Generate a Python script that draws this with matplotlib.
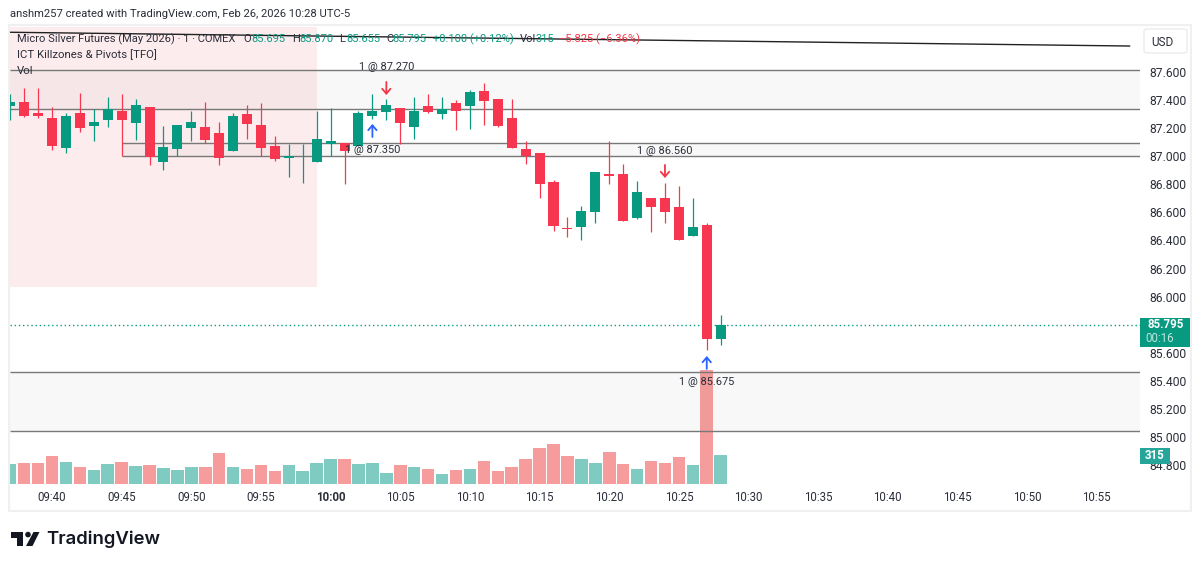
import matplotlib
matplotlib.use('Agg')
import matplotlib.pyplot as plt
from matplotlib.patches import Rectangle, Polygon, Circle, FancyBboxPatch
import numpy as np

# minutes after 09:40, chart starts at 09:37
first_minute = -3

opens = [87.36, 87.385, 87.305, 87.275, 87.06, 87.31, 87.215, 87.26, 87.32, 87.24,
         87.35, 86.96, 87.055, 87.20, 87.205, 87.165, 87.035, 87.30, 87.225, 87.07,
         86.99, 86.985, 86.96, 87.09, 87.095, 87.075, 87.29, 87.315, 87.345, 87.21,
         87.36, 87.30, 87.38, 87.36, 87.465, 87.405, 87.27, 87.05, 87.02, 86.815,
         86.49, 86.495, 86.605, 86.875, 86.875, 86.56, 86.705, 86.705, 86.64, 86.435,
         86.51, 85.695]
highs = [87.445, 87.485, 87.485, 87.35, 87.305, 87.45, 87.335, 87.42, 87.445, 87.41,
         87.35, 87.215, 87.225, 87.32, 87.385, 87.245, 87.305, 87.365, 87.38, 87.145,
         87.085, 87.085, 87.32, 87.345, 87.095, 87.32, 87.44, 87.405, 87.345, 87.425,
         87.445, 87.425, 87.40, 87.475, 87.525, 87.405, 87.405, 87.105, 87.02, 86.83,
         86.57, 86.645, 86.885, 87.105, 86.945, 86.825, 86.705, 86.81, 86.79, 86.705,
         86.525, 85.87]
lows = [87.26, 87.28, 87.275, 87.045, 87.025, 87.175, 87.105, 87.205, 87.00, 87.115,
        86.935, 86.90, 87.00, 87.105, 87.095, 86.94, 87.035, 87.125, 87.00, 86.965,
        86.85, 86.81, 86.96, 87.005, 86.805, 87.075, 87.265, 87.26, 87.085, 87.125,
        87.305, 87.265, 87.185, 87.195, 87.22, 87.205, 87.06, 86.945, 86.705, 86.47,
        86.425, 86.405, 86.525, 86.805, 86.54, 86.555, 86.46, 86.525, 86.405, 86.435,
        85.62, 85.655]
closes = [87.385, 87.29, 87.29, 87.07, 87.29, 87.20, 87.245, 87.335, 87.26, 87.365,
          86.995, 87.065, 87.225, 87.245, 87.115, 86.99, 87.29, 87.23, 87.06, 86.98,
          87.00, 86.99, 87.125, 87.105, 87.035, 87.305, 87.32, 87.365, 87.235, 87.32,
          87.315, 87.335, 87.325, 87.455, 87.395, 87.215, 87.06, 87.005, 86.805, 86.50,
          86.485, 86.61, 86.885, 86.86, 86.54, 86.745, 86.64, 86.60, 86.405, 86.495,
          85.695, 85.795]
volumes = [220, 230, 230, 305, 240, 190, 150, 220, 240, 195,
           205, 170, 150, 185, 180, 335, 185, 160, 205, 140,
           205, 140, 230, 270, 270, 220, 230, 120, 205, 180,
           160, 110, 150, 160, 250, 140, 190, 270, 390, 435,
           305, 270, 230, 345, 220, 160, 250, 230, 295, 205,
           1240, 315]

# 85.800 sits behind the last price tag in the original, so it has no label
price_ticks = [84.8, 85.0, 85.2, 85.4, 85.6, 86.0, 86.2, 86.4, 86.6, 86.8, 87.0, 87.2, 87.4, 87.6]
time_ticks = [0, 5, 10, 15, 20, 25, 30, 35, 40, 45, 50, 55, 60, 65, 70, 75]
time_labels = ['09:40', '09:45', '09:50', '09:55', '10:00', '10:05', '10:10', '10:15',
               '10:20', '10:25', '10:30', '10:35', '10:40', '10:45', '10:50', '10:55']

# trade markers: minute, side, label, arrow tail, arrow head, label price
trade_minutes = [24, 23, 44, 47]
trade_sides = ['sell', 'buy', 'sell', 'buy']
trade_labels = ['1 @ 87.270', '1 @ 87.350', '1 @ 86.560', '1 @ 85.675']
trade_tails = [87.529, 87.137, 86.938, 85.485]
trade_heads = [87.436, 87.23, 86.845, 85.577]
trade_label_prices = [87.636, 87.044, 87.037, 85.392]

# pivot levels
level_pairs = [(87.616, 87.334, -3.0), (87.096, 87.0, 5.0), (85.46, 85.045, -3.0)]
trend_minutes = [-3.0, 77.35]
trend_prices = [87.883, 87.785]
last_price = 85.795
zone_end = 19.05
zone_low = 86.069

RED = '#f7374f'
GREEN = '#089981'
VOL_RED = '#f79c9c'
VOL_GREEN = '#7fcbc1'
LINE = '#787878'
TEXT = '#2a2e39'
FONT = 'Roboto'

plt.rcParams['font.family'] = [FONT, 'DejaVu Sans']
W, H = 1200, 567
fig = plt.figure(figsize=(W/100, H/100), dpi=100, facecolor='white')

def px_axes(x0, y0, x1, y1):
    return fig.add_axes([x0/W, 1-y1/H, (x1-x0)/W, (y1-y0)/H])

def ftext(x, y, s, **kw):
    kw.setdefault('fontsize', 8.0)
    kw.setdefault('color', TEXT)
    kw.setdefault('va', 'center')
    return fig.text(x/W, 1-y/H, s, **kw)

# frame around the chart
fig.add_artist(Rectangle((9/W, 1-511/H), 1182/W, 486/H, transform=fig.transFigure,
                         fill=False, edgecolor='#f0f0f0', lw=1.5))

ax = px_axes(10, 27, 1140, 484)
ax.set_xlim(-3.015, 78.1)
ax.set_ylim(84.6655, 87.9205)
ax.set_facecolor('none')
for s in ax.spines.values():
    s.set_visible(False)

vol_ax = px_axes(10, 27, 1140, 484)
vol_ax.set_xlim(ax.get_xlim())
vol_ax.set_ylim(0, 4963)
vol_ax.axis('off')
vol_ax.set_zorder(ax.get_zorder()-1)

minutes = np.arange(len(opens)) + first_minute
o, h, l, c = map(np.array, (opens, highs, lows, closes))
up = c >= o
cols = np.where(up, GREEN, RED)

vol_ax.bar(minutes, volumes, width=0.9, color=np.where(up, VOL_GREEN, VOL_RED), zorder=3)

# killzone box and level shading
xl = ax.get_xlim()
yl = ax.get_ylim()
ax.add_patch(Rectangle((xl[0], zone_low), zone_end-xl[0], yl[1]-zone_low, color='#fdecee', lw=0, zorder=0.5))
for top, bottom, start in level_pairs:
    ax.add_patch(Rectangle((start, bottom), xl[1]-start, top-bottom, color='#808080', alpha=0.05, lw=0, zorder=1))
    ax.hlines([top, bottom], start, xl[1], color=LINE, lw=1.0, zorder=2)
ax.plot(trend_minutes, trend_prices, color='#222222', lw=1.0, zorder=2)
ax.axhline(last_price, color=GREEN, lw=1.0, ls=(0, (1, 2)), zorder=2)

ax.vlines(minutes, l, h, colors=cols, lw=0.9, zorder=4)
ax.bar(minutes, np.maximum(np.abs(c-o), 0.006), bottom=np.minimum(o, c), width=0.72, color=cols, zorder=5)

for m, side, lab, tail, head, lp in zip(trade_minutes, trade_sides, trade_labels,
                                        trade_tails, trade_heads, trade_label_prices):
    col = '#2962ff' if side == 'buy' else '#f23645'
    ax.annotate('', xy=(m, head), xytext=(m, tail), zorder=6,
                arrowprops=dict(arrowstyle='->,head_width=0.3,head_length=0.35', color=col, lw=1.3,
                                shrinkA=0, shrinkB=0))
    ax.text(m, lp, lab, ha='center', va='center', fontsize=7.9, color=TEXT, zorder=6)

ax.yaxis.tick_right()
ax.set_yticks(price_ticks)
ax.set_yticklabels(['%.3f' % p for p in price_ticks])
ax.tick_params(axis='y', length=0, pad=7, labelsize=8.7, labelcolor=TEXT)
ax.set_xticks(time_ticks)
ax.set_xticklabels(time_labels)
ax.tick_params(axis='x', length=0, pad=5, labelsize=8.3, labelcolor=TEXT)
ax.get_xticklabels()[4].set_fontweight('bold')

# price axis tags
fig.add_artist(Rectangle((1140/W, 1-347/H), 50/W, 29/H, transform=fig.transFigure, color=GREEN, lw=0, zorder=8))
ftext(1166, 325, '85.795', color='white', ha='center', fontweight='bold', fontsize=8.3, zorder=9)
ftext(1160, 339, '00:16', color='#bfe6df', ha='center', fontsize=8.3, zorder=9)
fig.add_artist(Rectangle((1140/W, 1-463.5/H), 30/W, 16/H, transform=fig.transFigure, color='#26a69a', lw=0, zorder=8))
ftext(1155, 455.5, '315', color='white', ha='center', fontweight='bold', fontsize=8.3, zorder=9)
fig.add_artist(FancyBboxPatch((1144/W, 1-53/H), 43/W, 24/H, transform=fig.transFigure,
                              boxstyle='round,pad=0,rounding_size=0.003', fc='white', ec='#ececec', lw=1, zorder=8))
ftext(1162, 42, 'USD', ha='center', fontsize=8.5, zorder=9)

# header and legend
ftext(10, 14, 'anshm257 created with TradingView.com, Feb 26, 2026 10:28 UTC-5', fontsize=8.1)
ftext(17, 39, 'Micro Silver Futures (May 2026) · 1 · COMEX')
legend_parts = [(243, 'O', TEXT), (251, '85.695', GREEN), (292, 'H', TEXT), (299, '85.870', GREEN),
                (339, 'L', TEXT), (346, '85.655', GREEN), (386, 'C', TEXT), (392, '85.795', GREEN),
                (433, '+0.100 (+0.12%)', GREEN), (520, 'Vol', TEXT), (535, '315', GREEN),
                (559, '−5.825 (−6.36%)', '#f23645')]
for x, s, col in legend_parts:
    ftext(x, 39, s, color=col, fontsize=8.0)
ftext(17, 55, 'ICT Killzones & Pivots [TFO]', fontsize=8.2)
ftext(17, 71, 'Vol', fontsize=8.2)

# logo
logo = fig.add_axes([0, 0, 1, 1], zorder=10)
logo.set_xlim(0, W)
logo.set_ylim(H, 0)
logo.axis('off')
logo.patch.set_alpha(0)
logo.add_patch(Polygon([(11, 532), (23.3, 532), (23.3, 546), (17.3, 546), (17.3, 538), (11, 538)], color='#131722', lw=0))
logo.add_patch(Circle((28, 534.6), 2.8, color='#131722', lw=0))
logo.add_patch(Polygon([(33.5, 532), (39.5, 532), (32.5, 546), (26, 546)], color='#131722', lw=0))
logo.text(46, 539, 'TradingView', family='Inter', fontsize=13.3, fontweight='semibold', color='#131722', va='center')

fig.savefig('out.png', dpi=100)
